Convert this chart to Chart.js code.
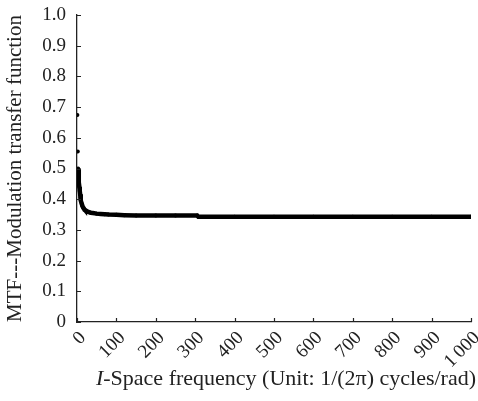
<!DOCTYPE html>
<html>
<head>
<meta charset="utf-8">
<script src="https://cdn.jsdelivr.net/npm/chart.js@4.4.0/dist/chart.umd.min.js"></script>
<style>
  html, body { margin: 0; padding: 0; background: #fff; }
  #wrap { width: 478px; height: 401px; }
</style>
</head>
<body>
<div id="wrap"><canvas id="myChart" width="478" height="401"></canvas></div>
<script>
// values
var freq = [1, 2, 3, 4, 5, 6, 7, 8, 9, 10, 12, 14, 16, 18, 20, 25, 30, 35, 40, 50, 60, 70, 80, 100,
            120, 150, 200, 250, 305, 308, 400, 500, 600, 700, 800, 900, 1000];
var mtf = [0.674, 0.555, 0.500, 0.473, 0.455, 0.440, 0.427, 0.416, 0.405, 0.396, 0.385, 0.377, 0.372,
           0.368, 0.365, 0.361, 0.358, 0.356, 0.355, 0.353, 0.352, 0.351, 0.350, 0.349,
           0.348, 0.347, 0.347, 0.347, 0.347, 0.343, 0.343, 0.343, 0.343, 0.343, 0.343, 0.343, 0.343];
var xTicks = [0, 100, 200, 300, 400, 500, 600, 700, 800, 900, 1000];
var yTicks = [0, 0.1, 0.2, 0.3, 0.4, 0.5, 0.6, 0.7, 0.8, 0.9, 1.0];

var serif = 'Liberation Serif';
var points = freq.map(function (f, i) { return { x: f, y: mtf[i] }; });

// inward tick marks + x title with italic I
var extras = {
    id: 'extras',
    afterDraw: function (chart) {
        var c = chart.ctx, xs = chart.scales.x, ys = chart.scales.y;
        var area = chart.chartArea;
        c.save();
        c.strokeStyle = '#222';
        c.lineWidth = 1.2;
        c.beginPath();
        xTicks.forEach(function (v) {
            var px = Math.round(xs.getPixelForValue(v)) + 0.5;
            c.moveTo(px, area.bottom);
            c.lineTo(px, area.bottom - 4);
        });
        yTicks.forEach(function (v) {
            var py = Math.round(ys.getPixelForValue(v)) + 0.5;
            c.moveTo(area.left, py);
            c.lineTo(area.left + 4, py);
        });
        c.stroke();

        var rest = '-Space frequency (Unit: 1/(2\u03c0) cycles/rad)';
        c.fillStyle = '#222';
        c.textBaseline = 'alphabetic';
        c.font = 'italic 22px ' + serif;
        var w1 = c.measureText('I').width;
        c.font = '22px ' + serif;
        var w2 = c.measureText(rest).width;
        var x0 = 476 - (w1 + w2), base = 385;
        c.font = 'italic 22px ' + serif;
        c.fillText('I', x0, base);
        c.font = '22px ' + serif;
        c.fillText(rest, x0 + w1, base);
        c.restore();
    }
};

var ctx = document.getElementById('myChart').getContext('2d');
var myChart = new Chart(ctx, {
    type: 'scatter',
    data: {
        datasets: [{
            label: 'MTF',
            data: points,
            showLine: true,
            borderColor: '#000',
            backgroundColor: '#000',
            borderWidth: 4.5,
            pointRadius: 2,
            pointBorderWidth: 0,
            segment: {
                borderColor: function (s) { return s.p0DataIndex < 2 ? 'rgba(0,0,0,0)' : '#000'; }
            }
        }]
    },
    options: {
        responsive: false,
        animation: false,
        layout: { padding: { top: 15, right: 7, left: 0, bottom: 0 } },
        plugins: {
            legend: { display: false },
            tooltip: { enabled: false }
        },
        scales: {
            x: {
                type: 'linear',
                min: 0,
                max: 1000,
                afterBuildTicks: function (s) { s.ticks = xTicks.map(function (v) { return { value: v }; }); },
                afterFit: function (s) { s.height = 79; s.paddingLeft = 0; s.paddingRight = 0; },
                grid: { display: true, drawOnChartArea: false, drawTicks: false },
                border: { color: '#222', width: 1.3 },
                ticks: {
                    color: '#222',
                    font: { family: serif, size: 19 },
                    minRotation: 45,
                    maxRotation: 45,
                    padding: 5,
                    labelOffset: 6,
                    callback: function (v) { return v === 1000 ? '1\u2009000' : String(v); }
                }
            },
            y: {
                min: 0,
                max: 1,
                afterBuildTicks: function (s) { s.ticks = yTicks.map(function (v) { return { value: v }; }); },
                afterFit: function (s) { s.width = 77; s.paddingTop = 0; s.paddingBottom = 0; },
                grid: { display: true, drawOnChartArea: false, drawTicks: false },
                border: { color: '#222', width: 1.3 },
                title: {
                    display: true,
                    text: 'MTF---Modulation transfer function',
                    color: '#222',
                    font: { family: serif, size: 21 },
                    padding: { top: 3, bottom: 4 }
                },
                ticks: {
                    color: '#222',
                    font: { family: serif, size: 19 },
                    padding: 11,
                    callback: function (v) { return v === 0 ? '0' : v.toFixed(1); }
                }
            }
        }
    },
    plugins: [extras]
});
</script>
</body>
</html>
